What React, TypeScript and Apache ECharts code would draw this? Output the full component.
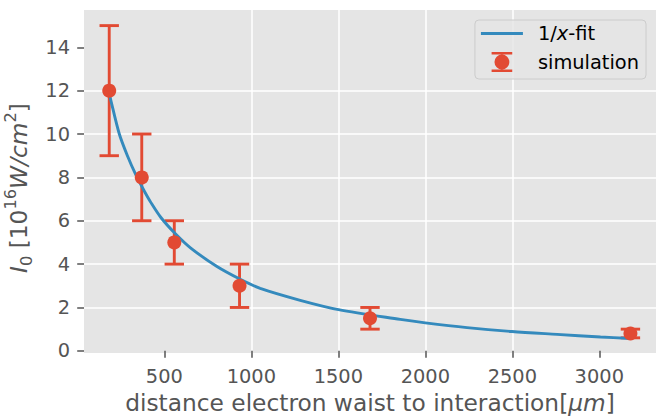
import React, { useEffect, useRef } from "react";
import * as echarts from "echarts";

// ---- data ----
const simX = [183, 370, 557, 932, 1682, 3179];
const simY = [12, 8, 5, 3, 1.5, 0.8];
const errLow = [9, 6, 4, 2, 1, 0.6];
const errHigh = [15, 10, 6, 4, 2, 1.0];

const fitX = [183, 191, 241, 290, 337, 389, 418, 480, 562, 650, 800, 936, 1051, 1281, 1501, 1856, 2000, 2240, 2498, 2757, 3007, 3179];
const fitY = [11.9, 11.6, 10.0, 8.95, 8.1, 7.3, 6.9, 6.15, 5.41, 4.75, 3.9, 3.3, 2.88, 2.33, 1.9, 1.45, 1.29, 1.07, 0.89, 0.76, 0.64, 0.57];

const xTicks = [500, 1000, 1500, 2000, 2500, 3000];
const yTicks = [0, 2, 4, 6, 8, 10, 12, 14];

const X_MIN = 38;
const X_MAX = 3326;
const Y_MIN = -0.1;
const Y_MAX = 15.72;

const RED = "#E24A33";
const BLUE = "#348ABD";
const GREY = "#555555";
const FONT = "DejaVu Sans";

const LINE_ICON = "path://M0,0L42,0L42,2.9L0,2.9Z";
const ERR_ICON =
  "path://M0,0L19.4,0L19.4,2.4L0,2.4Z M2.7,9.4A7,7 0 1,0 16.7,9.4A7,7 0 1,0 2.7,9.4Z M0,16.4L19.4,16.4L19.4,18.8L0,18.8Z";

export default function App() {
  const ref = useRef<HTMLDivElement>(null);

  useEffect(() => {
    if (!ref.current) return;
    const chart = echarts.init(ref.current, undefined, { renderer: "svg" });

    const errData = simX.map((x, i) => [x, errLow[i], errHigh[i]]);
    const simData = simX.map((x, i) => [x, simY[i]]);
    const fitData = fitX.map((x, i) => [x, fitY[i]]);

    chart.setOption({
      animation: false,
      grid: {
        left: 84,
        right: 8,
        top: 10,
        bottom: 63,
        containLabel: false,
        outerBoundsMode: "none",
        show: true,
        backgroundColor: "#E5E5E5",
        borderWidth: 0,
      },
      legend: {
        right: 18,
        top: 20,
        orient: "vertical",
        align: "left",
        backgroundColor: "rgba(229,229,229,0.8)",
        borderColor: "#cccccc",
        borderWidth: 1,
        borderRadius: 4,
        padding: [4, 7, 7, 6],
        itemWidth: 42,
        itemHeight: 20,
        itemGap: 9,
        textStyle: {
          fontSize: 19.4,
          fontFamily: FONT,
          color: "#000",
          padding: [0, 0, 0, 10],
          rich: {
            n: { fontSize: 19.4, fontFamily: FONT, color: "#000" },
            i: { fontSize: 19.4, fontFamily: FONT, color: "#000", fontStyle: "italic" },
          },
        },
        formatter: (name: string) => (name === "1/x-fit" ? "{n|1/}{i|x}{n|-fit}" : "{n|" + name + "}"),
        data: [
          { name: "1/x-fit", icon: LINE_ICON, itemStyle: { color: BLUE, borderWidth: 0 } },
          { name: "simulation", icon: ERR_ICON, itemStyle: { color: RED, borderWidth: 0, opacity: 1 } },
        ],
      },
      xAxis: {
        type: "value",
        min: X_MIN,
        max: X_MAX,
        name: "distance electron waist to interaction[{it|μm}]",
        nameLocation: "middle",
        nameGap: 31,
        nameTextStyle: {
          fontSize: 23.3,
          fontFamily: FONT,
          color: GREY,
          rich: {
            it: { fontSize: 23.3, fontFamily: FONT, color: GREY, fontStyle: "italic" },
          },
        },
        axisLine: { show: false },
        axisTick: {
          show: true,
          length: 6.8,
          lineStyle: { color: GREY, width: 1.5 },
          customValues: xTicks,
        },
        axisLabel: {
          customValues: xTicks,
          formatter: (v: number) => String(v),
          margin: 14,
          color: GREY,
          fontSize: 19.4,
          fontFamily: FONT,
        },
        splitLine: {
          show: true,
          showMinLine: false,
          showMaxLine: false,
          lineStyle: { color: "#ffffff", width: 1.5 },
        },
      },
      yAxis: {
        type: "value",
        min: Y_MIN,
        max: Y_MAX,
        name: "{it|I}{sub|0} [10{sup|16}{it|W/cm}{sup|2}]",
        nameLocation: "middle",
        nameGap: 50,
        nameTextStyle: {
          fontSize: 23.3,
          fontFamily: FONT,
          color: GREY,
          lineHeight: 32,
          padding: [0, 13, 0, 0],
          rich: {
            it: { fontSize: 23.3, fontFamily: FONT, color: GREY, fontStyle: "italic", lineHeight: 32 },
            sub: { fontSize: 16.3, fontFamily: FONT, color: GREY, lineHeight: 22, verticalAlign: "bottom" },
            sup: { fontSize: 16.3, fontFamily: FONT, color: GREY, lineHeight: 16, verticalAlign: "top" },
          },
        },
        axisLine: { show: false },
        axisTick: {
          show: true,
          length: 6.8,
          lineStyle: { color: GREY, width: 1.5 },
          customValues: yTicks,
        },
        axisLabel: {
          customValues: yTicks,
          formatter: (v: number) => String(v),
          margin: 14,
          color: GREY,
          fontSize: 19.4,
          fontFamily: FONT,
        },
        splitLine: {
          show: true,
          showMinLine: false,
          showMaxLine: false,
          lineStyle: { color: "#ffffff", width: 1.5 },
        },
      },
      series: [
        {
          type: "custom",
          name: "simulation",
          z: 2,
          itemStyle: { color: RED },
          encode: { x: 0, y: [1, 2] },
          data: errData,
          renderItem: (params: any, api: any) => {
            const x = api.value(0);
            const lo = api.coord([x, api.value(1)]);
            const hi = api.coord([x, api.value(2)]);
            const cw = 9.7;
            const style = { stroke: RED, lineWidth: 2.9, fill: "none" };
            return {
              type: "group",
              children: [
                { type: "line", shape: { x1: lo[0], y1: lo[1], x2: hi[0], y2: hi[1] }, style },
                { type: "line", shape: { x1: lo[0] - cw, y1: lo[1], x2: lo[0] + cw, y2: lo[1] }, style },
                { type: "line", shape: { x1: hi[0] - cw, y1: hi[1], x2: hi[0] + cw, y2: hi[1] }, style },
              ],
            };
          },
        },
        {
          type: "line",
          name: "1/x-fit",
          z: 3,
          data: fitData,
          symbol: "none",
          showSymbol: false,
          smooth: 0.3,
          lineStyle: { color: BLUE, width: 2.9 },
          itemStyle: { color: BLUE },
        },
        {
          type: "scatter",
          name: "simulation",
          z: 4,
          data: simData,
          symbol: "circle",
          symbolSize: 14,
          itemStyle: { color: RED, opacity: 1 },
        },
      ],
    });

    return () => chart.dispose();
  }, []);

  return <div ref={ref} style={{ width: 664, height: 416, position: "absolute", left: 0, top: 0 }} />;
}
